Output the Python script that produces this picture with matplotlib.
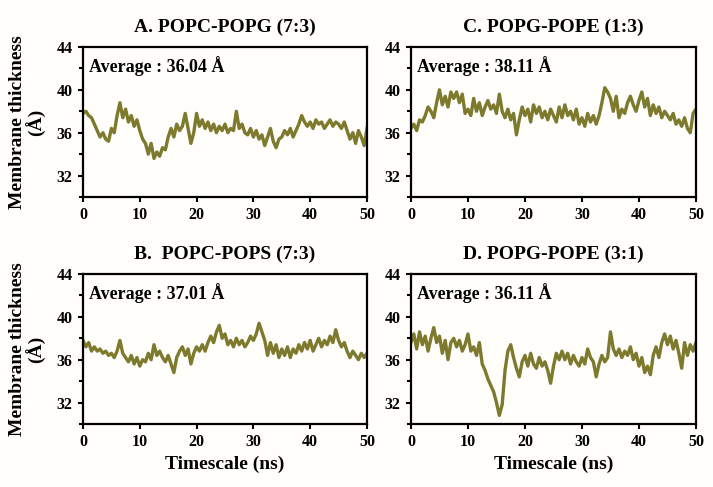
import matplotlib.pyplot as plt
from matplotlib.ticker import MultipleLocator, FixedLocator

# Time axis (ns), one reading every 0.5 ns
ido = [i * 0.5 for i in range(101)]

# A. POPC-POPG (7:3)
vastag_a = [37.8, 38.0, 37.6, 37.4, 36.8, 36.2, 35.6, 36.0, 35.4, 35.2,
            36.4, 36.0, 37.6, 38.8, 37.4, 38.2, 37.0, 37.6, 36.6, 37.2,
            36.2, 35.4, 35.0, 34.0, 35.0, 33.6, 34.2, 33.8, 34.6, 34.4,
            35.6, 36.4, 35.6, 36.8, 36.2, 36.6, 37.8, 36.4, 35.0, 36.0,
            37.8, 36.6, 37.2, 36.4, 37.0, 36.2, 36.8, 36.0, 36.6, 36.2,
            36.8, 36.0, 36.4, 36.2, 38.0, 36.4, 36.8, 36.0, 35.8, 36.4,
            35.6, 36.2, 35.4, 35.8, 34.8, 35.6, 36.4, 35.2, 34.6, 35.4,
            35.6, 36.2, 35.8, 36.4, 35.6, 36.2, 36.8, 37.6, 37.0, 36.6,
            37.0, 36.4, 37.2, 36.8, 37.0, 36.4, 36.8, 37.2, 36.6, 37.0,
            36.8, 36.4, 37.0, 36.2, 35.4, 36.0, 35.0, 36.2, 35.6, 34.8,
            36.4]

# B. POPC-POPS (7:3)
vastag_b = [37.8, 37.2, 37.6, 36.8, 37.2, 36.8, 37.0, 36.6, 36.8, 36.4,
            36.6, 36.2, 36.8, 37.8, 36.6, 36.2, 35.8, 36.4, 35.6, 36.2,
            35.4, 36.0, 35.8, 36.6, 36.0, 37.4, 36.4, 36.8, 36.2, 35.8,
            36.4, 35.6, 34.8, 36.2, 36.8, 37.2, 36.4, 37.0, 35.6, 36.6,
            37.2, 36.8, 37.4, 36.8, 37.6, 38.2, 37.6, 38.6, 39.2, 38.0,
            38.4, 37.4, 37.8, 37.2, 38.0, 37.4, 37.8, 37.2, 37.6, 38.2,
            37.8, 38.4, 39.4, 38.6, 37.8, 36.4, 37.6, 36.6, 37.4, 36.2,
            37.0, 36.4, 37.2, 36.2, 37.0, 36.6, 37.4, 36.8, 37.6, 37.0,
            37.8, 36.8, 37.4, 38.0, 37.2, 37.8, 37.4, 38.2, 37.6, 38.8,
            37.8, 37.2, 37.6, 36.8, 36.2, 36.8, 36.4, 36.0, 36.6, 36.2,
            36.6]

# C. POPG-POPE (1:3)
vastag_c = [36.4, 36.8, 36.2, 37.2, 37.0, 37.6, 38.4, 38.0, 37.4, 38.8,
            40.0, 38.6, 39.4, 38.4, 39.8, 39.2, 39.8, 38.8, 39.6, 37.8,
            38.2, 37.6, 39.2, 38.0, 38.8, 37.6, 38.4, 39.0, 38.2, 38.6,
            37.8, 39.6, 38.0, 37.4, 38.2, 37.2, 37.8, 35.8, 37.2, 38.4,
            37.6, 38.2, 37.0, 38.6, 37.8, 38.4, 37.4, 38.0, 37.2, 38.2,
            37.6, 37.0, 38.4, 37.4, 38.6, 37.6, 38.0, 37.2, 38.2, 36.8,
            37.4, 36.6, 37.8, 37.0, 37.6, 36.8, 37.6, 38.8, 40.2, 39.8,
            39.2, 38.0, 39.4, 37.4, 38.2, 37.8, 38.8, 39.4, 38.6, 38.0,
            39.0, 39.8, 38.4, 39.2, 37.6, 38.6, 37.8, 38.4, 37.4, 38.0,
            37.6, 37.2, 37.8, 36.8, 37.2, 36.6, 37.4, 36.4, 36.0, 37.8,
            38.2]

# D. POPG-POPE (3:1)
vastag_d = [37.6, 38.4, 37.0, 38.6, 37.4, 38.2, 36.8, 38.0, 39.0, 37.6,
            38.2, 36.6, 37.8, 36.0, 37.6, 38.0, 37.2, 37.8, 36.8, 37.4,
            38.4, 36.8, 37.2, 36.4, 37.6, 35.6, 35.0, 34.2, 33.6, 33.0,
            32.0, 30.8, 31.8, 35.0, 36.8, 37.4, 36.2, 35.2, 34.4, 35.8,
            36.4, 35.4, 36.6, 35.6, 35.2, 36.2, 35.4, 35.8, 35.0, 33.8,
            35.4, 36.6, 36.0, 36.8, 36.0, 36.6, 35.6, 36.4, 35.8, 35.4,
            36.2, 35.6, 37.0, 36.2, 35.8, 34.4, 35.6, 36.4, 35.8, 36.2,
            38.6, 37.0, 36.4, 37.0, 36.2, 36.8, 36.4, 37.2, 36.0, 36.6,
            35.4, 36.2, 34.8, 35.4, 34.6, 36.4, 37.2, 36.2, 37.6, 38.4,
            37.4, 38.2, 37.0, 37.8, 36.6, 35.2, 37.6, 36.4, 37.4, 36.8,
            37.6]

cimek = ["A. POPC-POPG (7:3)", "B.  POPC-POPS (7:3)",
         "C. POPG-POPE (1:3)", "D. POPG-POPE (3:1)"]
atlagok = ["36.04", "37.01", "38.11", "36.11"]

plt.rcParams['font.family'] = ['Liberation Serif', 'DejaVu Serif']
plt.rcParams['font.weight'] = 'bold'

szin = '#7d7a2e'
fig = plt.figure(figsize=(7.13, 4.87), dpi=100)
fig.patch.set_facecolor('#fffefb')

# Panel helye: [bal, alul, szel, mag]
helyek = [[0.1164, 0.5955, 0.3983, 0.308],
          [0.1164, 0.1294, 0.3983, 0.308],
          [0.5764, 0.5955, 0.3997, 0.308],
          [0.5764, 0.1294, 0.3997, 0.308]]
adatok = [vastag_a, vastag_b, vastag_c, vastag_d]


def panel(hely, y, cim, atlag, bal, alul):
    ax = fig.add_axes(hely)
    ax.set_facecolor('#fffefb')
    ax.plot(ido, y, color=szin, linewidth=2.4)
    ax.set_xlim(0, 50)
    ax.set_ylim(30, 44)
    ax.xaxis.set_major_locator(MultipleLocator(10))
    ax.yaxis.set_major_locator(FixedLocator([32, 36, 40, 44]))
    ax.yaxis.set_minor_locator(FixedLocator([30, 34, 38, 42]))
    for s in ax.spines.values():
        s.set_linewidth(1.6)
    ax.tick_params(which='major', length=3.5, width=1.5, labelsize=11.5, pad=4)
    ax.tick_params(which='minor', length=3, width=1.5)
    for lab in ax.get_xticklabels() + ax.get_yticklabels():
        lab.set_fontweight('bold')
    ax.set_title(cim, fontsize=14, fontweight='bold', pad=11)
    ax.text(0.022, 0.875, "Average : " + atlag + " Å", transform=ax.transAxes,
            fontsize=13, fontweight='bold', va='center', ha='left')
    if bal:
        ax.set_ylabel("Membrane thickness\n(Å)", fontsize=14,
                      fontweight='bold', linespacing=1.0)
        ax.yaxis.set_label_coords(-0.13, 0.5)
    if alul:
        ax.set_xlabel("Timescale (ns)", fontsize=14, fontweight='bold',
                      labelpad=4)
    return ax


for i in range(4):
    panel(helyek[i], adatok[i], cimek[i], atlagok[i], i < 2, i % 2 == 1)

fig.savefig('out.png', dpi=100, facecolor=fig.get_facecolor())
